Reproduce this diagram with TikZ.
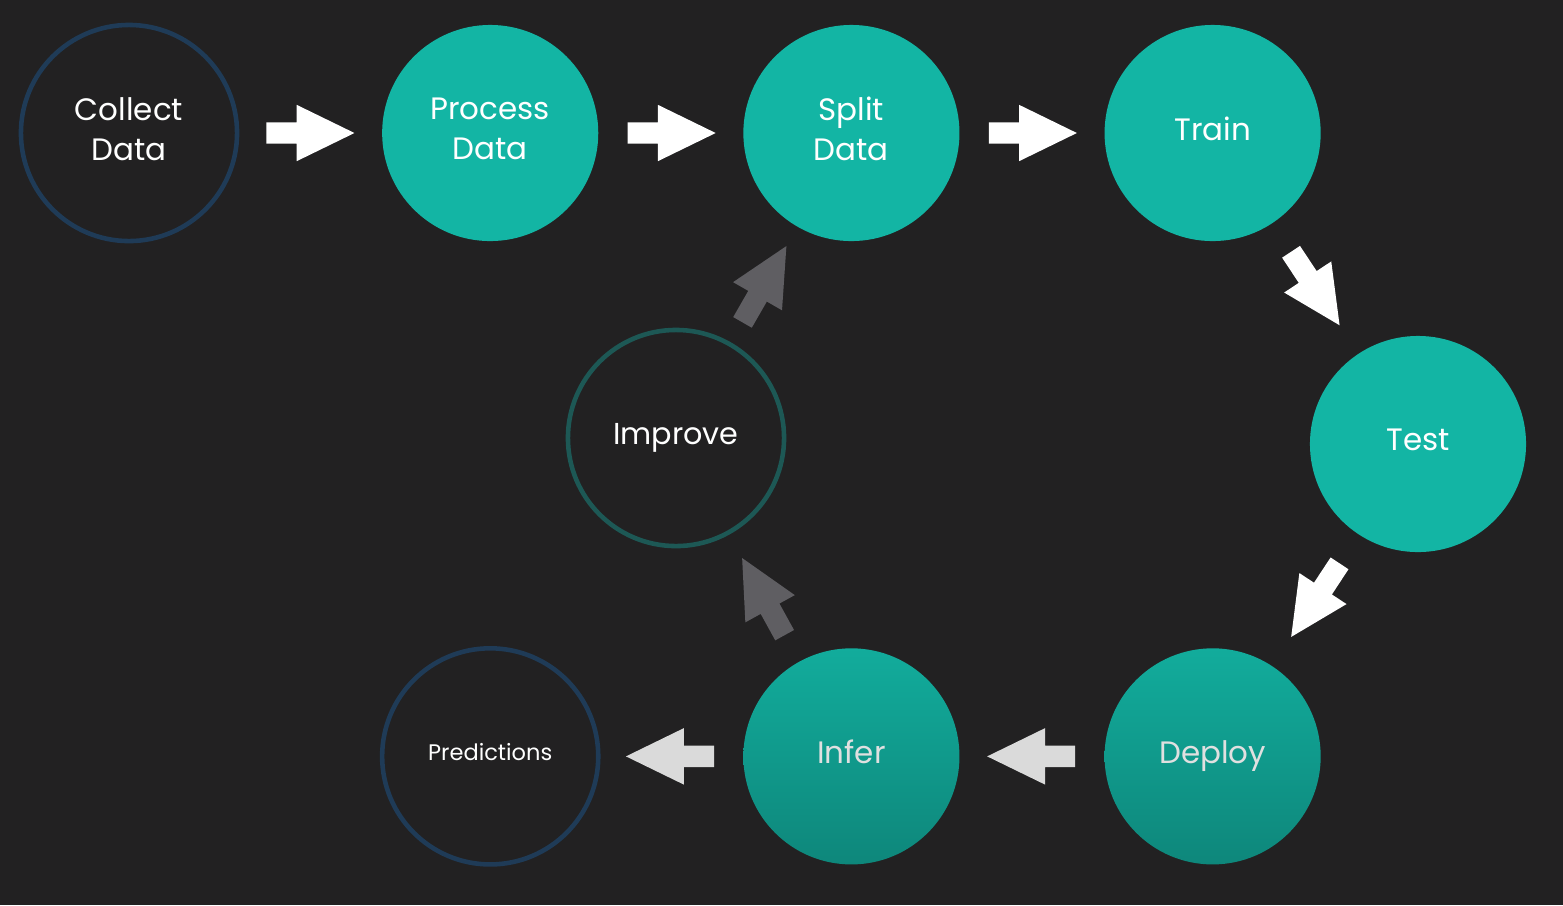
\documentclass[tikz,border=0pt]{standalone}
\usepackage{fontspec}
\setmainfont{Poppins}
\usetikzlibrary{shapes,arrows,positioning}
\definecolor{bgdark}{HTML}{222122}
\definecolor{tealfill}{HTML}{13B5A4}
\definecolor{tealdark}{HTML}{0E877B}
\definecolor{navyline}{HTML}{1F3B57}
\definecolor{tealline}{HTML}{1D5855}
\definecolor{greyarrow}{HTML}{5F5E62}
\definecolor{lightarrow}{HTML}{DADADA}

\begin{document}
\begin{tikzpicture}[x=0.01cm,y=-0.01cm,% pixel units, y downwards
			every node/.style={
				align=center,		% use this so that the "\\" for line break works
				inner sep=0pt,
				outer sep=0pt,
				font=\fontsize{8.8}{11.4}\selectfont,
				text=white
			},
			stage/.style={circle,minimum size=2.16cm,text depth=2.5pt},
			full/.style={stage,fill=tealfill},
			fade/.style={stage,top color=tealfill!95!black,bottom color=tealdark,text=white!88!black},
			ring/.style={stage,draw=navyline,line width=1.3pt},
			wa/.style={single arrow,pos=0.43,
				minimum height=0.88cm,inner xsep=0pt,inner ysep=0.1cm,
				single arrow head extend=0.175cm,single arrow tip angle=52,
				fill=white,sloped,allow upside down},
			every edge/.style={draw=none}
		]
		\fill[bgdark] (0,0) rectangle (1563,905);
		\node[ring](S1) at (129,133){Collect\\Data};
		\node[full](S2)[right=1.45cm of S1]{Process\\Data};
		\node[full](S3)[right=1.45cm of S2]{Split\\Data};
		\node[full](S4)[right=1.45cm of S3]{Train};
		\node[full](S5) at (1418,444){Test};
		\node[fade](S6)[below=4.07cm of S4]{Deploy};
		\node[fade](S7)[left=1.45cm of S6]{Infer};
		\node[ring,font=\fontsize{6.4}{8}\selectfont](S8)[left=1.45cm of S7]{Predictions};
		\node[ring,draw=tealline,font=\fontsize{8.6}{10}\selectfont](S9) at (676,438){Improve};
		\path
		(S1)edge []	node [wa] {} (S2)
		(S2)edge []	node [wa] {} (S3)
		(S3)edge []	node [wa] {} (S4)
		(S4)edge []	node [wa] {} (S5)
		(S5)edge []	node [wa] {} (S6)
		(S6)edge []	node [wa,fill=lightarrow] {} (S7)
		(S7)edge []	node [wa,fill=lightarrow] {} (S8)
		(S7)edge []	node [wa,fill=greyarrow] {} (S9)
		(S9)edge []	node [wa,fill=greyarrow] {} (S3)
		;
	\end{tikzpicture}
\end{document}
